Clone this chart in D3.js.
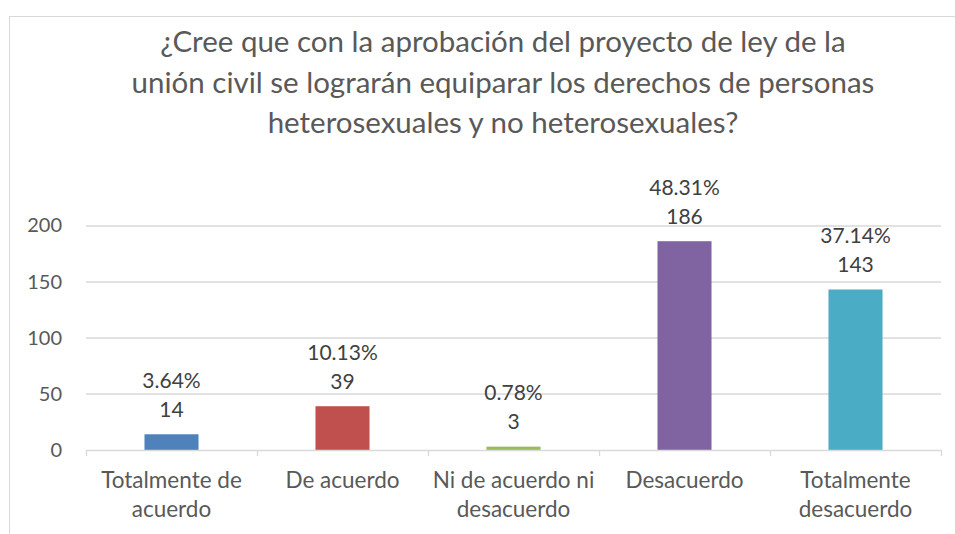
<!DOCTYPE html>
<html>
<head>
<meta charset="utf-8">
<script src="https://cdn.jsdelivr.net/npm/d3@7"></script>
<style>
  body { margin: 0; background: #fff; }
  svg { display: block; font-family: Lato, "Open Sans", sans-serif; }
</style>
</head>
<body>
<div id="chart"></div>
<script>
// Chart data
var titleLines = [
    "¿Cree que con la aprobación del proyecto de ley de la",
    "unión civil se lograrán equiparar los derechos de personas",
    "heterosexuales y no heterosexuales?"
];
var categories = ["Totalmente de acuerdo", "De acuerdo", "Ni de acuerdo ni desacuerdo", "Desacuerdo", "Totalmente desacuerdo"];
var counts = [14, 39, 3, 186, 143];
var percents = ["3.64%", "10.13%", "0.78%", "48.31%", "37.14%"];
var colors = ["#4F81BD", "#C0504D", "#9BBB59", "#8064A2", "#4BACC6"];
var yTicks = [0, 50, 100, 150, 200];

var W = 955, H = 534;
var margin = {top: 225.5, right: 14, bottom: 84, left: 86};
var width = W - margin.left - margin.right;
var height = H - margin.top - margin.bottom;

var svg = d3.select('#chart').append('svg')
    .attr('width', W)
    .attr('height', H);

// chart frame (only top and left edges visible)
svg.append('rect')
    .attr('x', 9.5).attr('y', 16.5)
    .attr('width', 1000).attr('height', 600)
    .attr('fill', 'none')
    .attr('stroke', '#D9D9D9')
    .attr('stroke-width', 1);

// Title
svg.append('text')
    .attr('text-anchor', 'middle')
    .attr('fill', '#595959')
    .style('font-size', '29.5px')
    .selectAll('tspan')
    .data(titleLines)
    .enter()
    .append('tspan')
    .attr('x', 503)
    .attr('y', function(d, i) { return 52 + i * 40.5; })
    .text(function(d) { return d; });

var graph = svg.append('g')
    .attr('transform', 'translate(' + margin.left + ',' + margin.top + ')');

var x = d3.scaleBand()
    .domain(categories)
    .range([0, width])
    .paddingInner(0.684)
    .paddingOuter(0.342);

var y = d3.scaleLinear()
    .domain([0, 200])
    .range([height, 0]);

// gridlines
graph.append('g')
    .selectAll('line')
    .data(yTicks.slice(1))
    .enter()
    .append('line')
    .attr('x1', 0).attr('x2', width)
    .attr('y1', function(d) { return Math.round(y(d)) + 0.5; })
    .attr('y2', function(d) { return Math.round(y(d)) + 0.5; })
    .attr('stroke', '#D9D9D9')
    .attr('stroke-width', 1.3);

// y axis labels
var yAxis = d3.axisLeft(y).tickValues(yTicks).tickSize(0).tickPadding(24);
graph.append('g')
    .call(yAxis)
    .call(function(g) { g.select('.domain').remove(); })
    .selectAll('text')
    .attr('fill', '#595959')
    .style('font-size', '20px')
    .style('font-family', 'Lato, sans-serif');

// bars
graph.append('g')
    .selectAll('rect')
    .data(categories)
    .enter()
    .append('rect')
    .attr('x', function(d) { return x(d); })
    .attr('width', x.bandwidth())
    .attr('y', function(d, i) { return y(counts[i]); })
    .attr('height', function(d, i) { return height - y(counts[i]); })
    .attr('fill', function(d, i) { return colors[i]; });

// x axis with tick marks between categories
var step = x.step();
var xAxisG = graph.append('g')
    .attr('transform', 'translate(0,' + height + ')');
xAxisG.append('line')
    .attr('x1', 0).attr('x2', width)
    .attr('y1', 0.5).attr('y2', 0.5)
    .attr('stroke', '#D9D9D9')
    .attr('stroke-width', 1.3);
xAxisG.selectAll('line.tick')
    .data(d3.range(categories.length + 1))
    .enter()
    .append('line')
    .classed('tick', true)
    .attr('x1', function(i) { return Math.round(i * step) + 0.5; })
    .attr('x2', function(i) { return Math.round(i * step) + 0.5; })
    .attr('y1', 0).attr('y2', 6)
    .attr('stroke', '#D9D9D9')
    .attr('stroke-width', 1.3);

// category labels, wrapped to fit
var labels = xAxisG.selectAll('text.cat')
    .data(categories)
    .enter()
    .append('text')
    .classed('cat', true)
    .attr('text-anchor', 'middle')
    .attr('fill', '#595959')
    .style('font-size', '22.5px')
    .attr('x', function(d) { return x(d) + x.bandwidth() / 2; })
    .attr('y', 38);

labels.each(function(d) {
    var el = d3.select(this);
    var cx = +el.attr('x');
    var words = d.split(' ');
    var lines = [], line = [];
    var tspan = el.append('tspan');
    words.forEach(function(w) {
        line.push(w);
        tspan.text(line.join(' '));
        if (tspan.node().getComputedTextLength() > 168 && line.length > 1) {
            line.pop();
            lines.push(line.join(' '));
            line = [w];
        }
    });
    lines.push(line.join(' '));
    tspan.remove();
    lines.forEach(function(l, i) {
        el.append('tspan')
            .attr('x', cx)
            .attr('dy', i === 0 ? 0 : 28.5)
            .text(l);
    });
});

// data labels: percent over count
var dl = graph.append('g')
    .selectAll('g')
    .data(categories)
    .enter()
    .append('g')
    .attr('transform', function(d, i) {
        return 'translate(' + (x(d) + x.bandwidth() / 2) + ',' + y(counts[i]) + ')';
    });
dl.append('text')
    .attr('text-anchor', 'middle')
    .attr('fill', '#404040')
    .style('font-size', '21px')
    .attr('y', -46.5)
    .text(function(d, i) { return percents[i]; });
dl.append('text')
    .attr('text-anchor', 'middle')
    .attr('fill', '#404040')
    .style('font-size', '21px')
    .attr('y', -17.5)
    .text(function(d, i) { return counts[i]; });
</script>
</body>
</html>
